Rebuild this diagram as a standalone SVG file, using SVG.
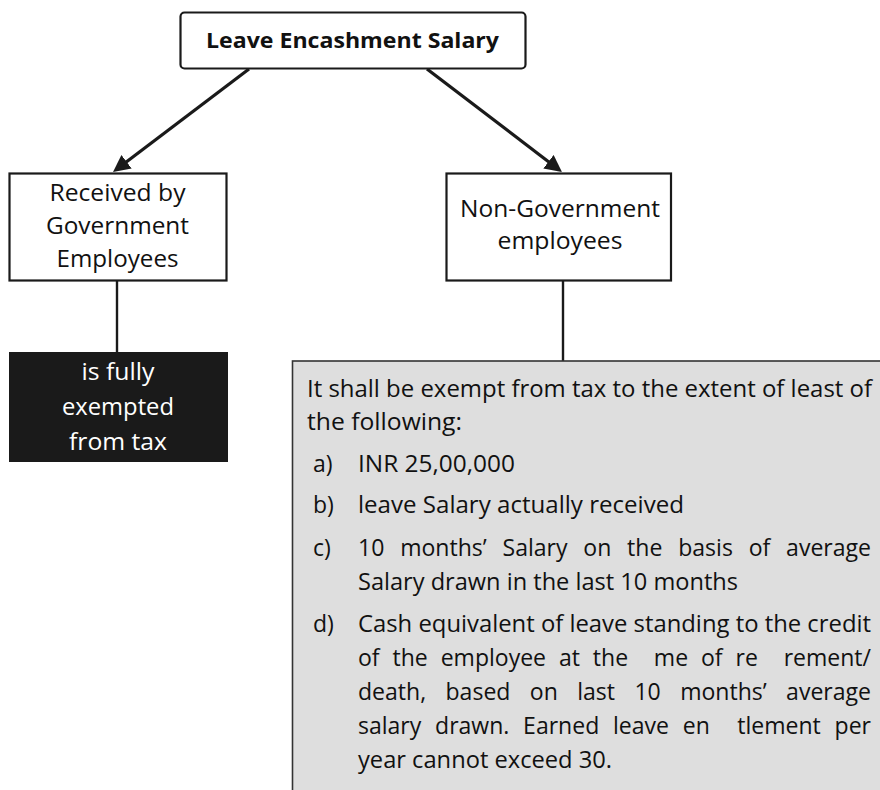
<svg xmlns="http://www.w3.org/2000/svg" width="880" height="790" viewBox="0 0 880 790">
  <defs>
    <marker id="arrow" markerUnits="userSpaceOnUse" markerWidth="17" markerHeight="17" viewBox="0 0 17 17" refX="12" refY="8.5" orient="auto">
      <path d="M0,0 L17,8.5 L0,17 z" fill="#1a1a1a"/>
    </marker>
    <style>
      .box { fill: #ffffff; stroke: #1a1a1a; stroke-width: 2.2; }
      .t { font-family: "Open Sans", "Liberation Sans", sans-serif; font-size: 23px; fill: #111111; }
      .c { text-anchor: middle; }
      .w { fill: #ffffff; }
      .b { font-weight: bold; font-size: 22px; }
      .conn { stroke: #1a1a1a; stroke-width: 3.2; fill: none; }
      .vline { stroke: #1a1a1a; stroke-width: 2.4; fill: none; }
      .p { white-space: pre; }
    </style>
  </defs>

  <rect width="880" height="790" fill="#ffffff"/>

  <g id="connectors">
    <line class="conn" x1="249" y1="69" x2="117" y2="169" marker-end="url(#arrow)"/>
    <line class="conn" x1="427" y1="69" x2="558" y2="169" marker-end="url(#arrow)"/>
    <line class="vline" x1="117" y1="281" x2="117" y2="352"/>
    <line class="vline" x1="563" y1="281" x2="563" y2="361"/>
  </g>

  <g id="node-title">
    <rect class="box" x="180.5" y="12.5" width="345" height="56" rx="4"/>
    <text class="t c b" x="352.5" y="48" textLength="293" lengthAdjust="spacingAndGlyphs">Leave Encashment Salary</text>
  </g>

  <g id="node-government">
    <rect class="box" x="9.5" y="173.5" width="217" height="107"/>
    <text class="t c" x="117.5" y="201" textLength="136" lengthAdjust="spacingAndGlyphs">Received by</text>
    <text class="t c" x="117.5" y="234" textLength="143" lengthAdjust="spacingAndGlyphs">Government</text>
    <text class="t c" x="117.5" y="267" textLength="122" lengthAdjust="spacingAndGlyphs">Employees</text>
  </g>

  <g id="node-nongovernment">
    <rect class="box" x="446.5" y="173.5" width="224.5" height="107"/>
    <text class="t c" x="560" y="217" textLength="200" lengthAdjust="spacingAndGlyphs">Non-Government</text>
    <text class="t c" x="560" y="249" textLength="125" lengthAdjust="spacingAndGlyphs">employees</text>
  </g>

  <g id="node-exempt">
    <rect x="9" y="352" width="219" height="110" fill="#1a1a1a"/>
    <text class="t c w" x="118" y="380" textLength="73" lengthAdjust="spacingAndGlyphs">is fully</text>
    <text class="t c w" x="118" y="415" textLength="112" lengthAdjust="spacingAndGlyphs">exempted</text>
    <text class="t c w" x="118" y="450" textLength="98" lengthAdjust="spacingAndGlyphs">from tax</text>
  </g>

  <g id="node-rules">
    <rect x="292.5" y="361" width="600" height="440" fill="#dedede" stroke="#333333" stroke-width="1.6"/>
    <text class="t" x="307" y="397" textLength="565" lengthAdjust="spacingAndGlyphs">It shall be exempt from tax to the extent of least of</text>
    <text class="t" x="307" y="430" textLength="155" lengthAdjust="spacingAndGlyphs">the following:</text>
    <text class="t" x="313" y="472">a)</text>
    <text class="t" x="358" y="472" textLength="157" lengthAdjust="spacingAndGlyphs">INR 25,00,000</text>
    <text class="t" x="313" y="513">b)</text>
    <text class="t" x="358" y="513" textLength="326" lengthAdjust="spacingAndGlyphs">leave Salary actually received</text>
    <text class="t" x="313" y="556">c)</text>
    <text class="t" x="358" y="556" textLength="513" lengthAdjust="spacingAndGlyphs" style="word-spacing:9.8px">10 months’ Salary on the basis of average</text>
    <text class="t" x="358" y="590" textLength="380" lengthAdjust="spacingAndGlyphs">Salary drawn in the last 10 months</text>
    <text class="t" x="313" y="632">d)</text>
    <text class="t" x="358" y="632" textLength="513" lengthAdjust="spacingAndGlyphs">Cash equivalent of leave standing to the credit</text>
    <text class="t p" x="358" y="666" textLength="513" lengthAdjust="spacingAndGlyphs" style="word-spacing:6.9px" xml:space="preserve">of the employee at the  me of re  rement/</text>
    <text class="t" x="358" y="700" textLength="513" lengthAdjust="spacingAndGlyphs" style="word-spacing:13.4px">death, based on last 10 months’ average</text>
    <text class="t p" x="358" y="734" textLength="513" lengthAdjust="spacingAndGlyphs" style="word-spacing:7.8px" xml:space="preserve">salary drawn. Earned leave en  tlement per</text>
    <text class="t" x="358" y="768" textLength="254" lengthAdjust="spacingAndGlyphs">year cannot exceed 30.</text>
  </g>
</svg>
